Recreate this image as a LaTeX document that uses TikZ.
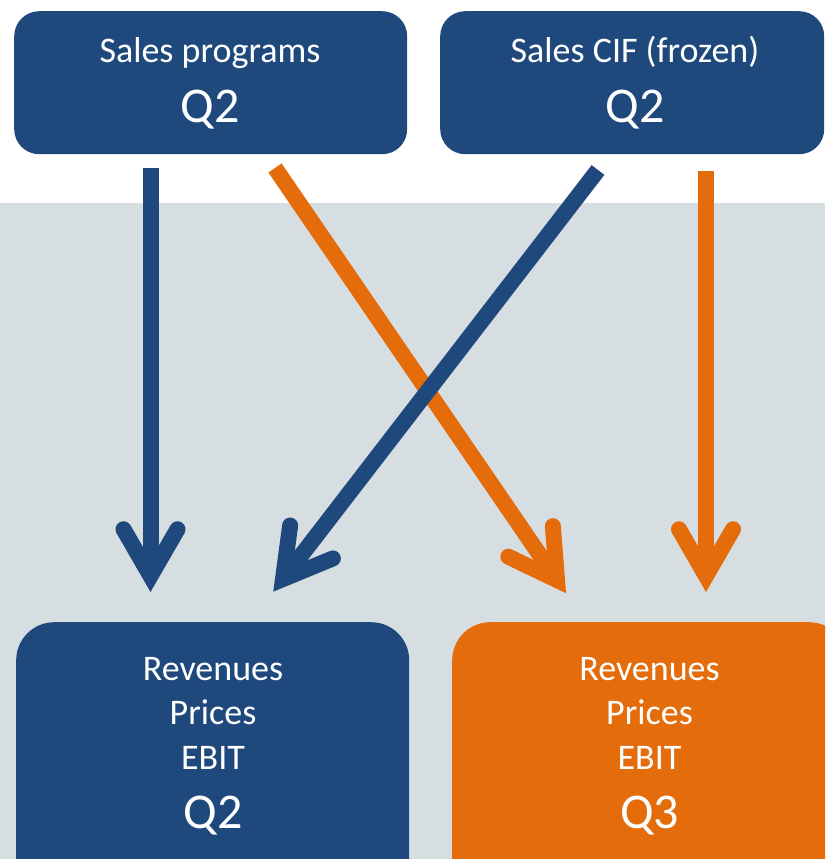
\documentclass[tikz,border=0pt]{standalone}
\usepackage{fontspec}
\setmainfont{Carlito}
\usetikzlibrary{calc}
\definecolor{navy}{HTML}{1F497D}
\definecolor{amber}{HTML}{E46C0A}
\definecolor{band}{HTML}{D7DEE1}

% thick shaft plus a round-capped, sharp-tipped chevron head
\newcommand\bigarrow[3]{%
  \draw[shaft, #1] (#2) -- (#3);
  \draw[shaft, #1, line cap=round, line join=miter]
    ($(#3)!54pt!30:(#2)$) -- (#3) -- ($(#3)!54pt!-30:(#2)$);
}

\begin{document}
\begin{tikzpicture}[x=1pt, y=-1pt,
  card/.style={shape=rectangle, fill=#1, inner sep=0pt, anchor=north west},
  small/.style={text=white, inner sep=0pt, anchor=base, font=\fontsize{36}{43}\selectfont},
  big/.style={text=white, inner sep=0pt, anchor=base, font=\fontsize{50}{60}\selectfont},
  shaft/.style={line width=16pt}]

\useasboundingbox (0,0) rectangle (825,859);
\clip (0,0) rectangle (825,859);
\fill[white] (0,0) rectangle (825,859);
\fill[band] (0,203) rectangle (825,859);

% source boxes
\node[card=navy, rounded corners=25pt, minimum width=393pt, minimum height=143pt] (prog) at (14,11) {};
\node[card=navy, rounded corners=25pt, minimum width=384pt, minimum height=143pt] (cif) at (440,11) {};
\node[small] (prog-a) at (210,63) {Sales programs};
\node[big]   (prog-b) at (210,122) {Q2};
\node[small] (cif-a) at (635,63) {Sales CIF (frozen)};
\node[big]   (cif-b) at (635,122) {Q2};

% result boxes
\node[card=navy, rounded corners=38pt, minimum width=393pt, minimum height=290pt] (resq2) at (16,622) {};
\node[card=amber, rounded corners=38pt, minimum width=395pt, minimum height=290pt] (resq3) at (452,622) {};
\node[small] (r2a) at (213,680) {Revenues};
\node[small] (r2b) at (213,724) {Prices};
\node[small] (r2c) at (213,769) {EBIT};
\node[big]   (r2d) at (213,828) {Q2};
\node[small] (r3a) at (649.5,680) {Revenues};
\node[small] (r3b) at (649.5,724) {Prices};
\node[small] (r3c) at (649.5,769) {EBIT};
\node[big]   (r3d) at (649.5,828) {Q3};

% connector ends
\coordinate (s1) at (150.5,168);
\coordinate (e1) at (150.5,576);
\coordinate (s2) at (275,168);
\coordinate (e2) at (557,580);
\coordinate (s3) at (598,170);
\coordinate (e3) at (283,579);
\coordinate (s4) at (706,171);
\coordinate (e4) at (706,576);

\bigarrow{navy}{s1}{e1}
\bigarrow{amber}{s4}{e4}
\bigarrow{amber}{s2}{e2}
\bigarrow{navy}{s3}{e3}

\end{tikzpicture}
\end{document}
